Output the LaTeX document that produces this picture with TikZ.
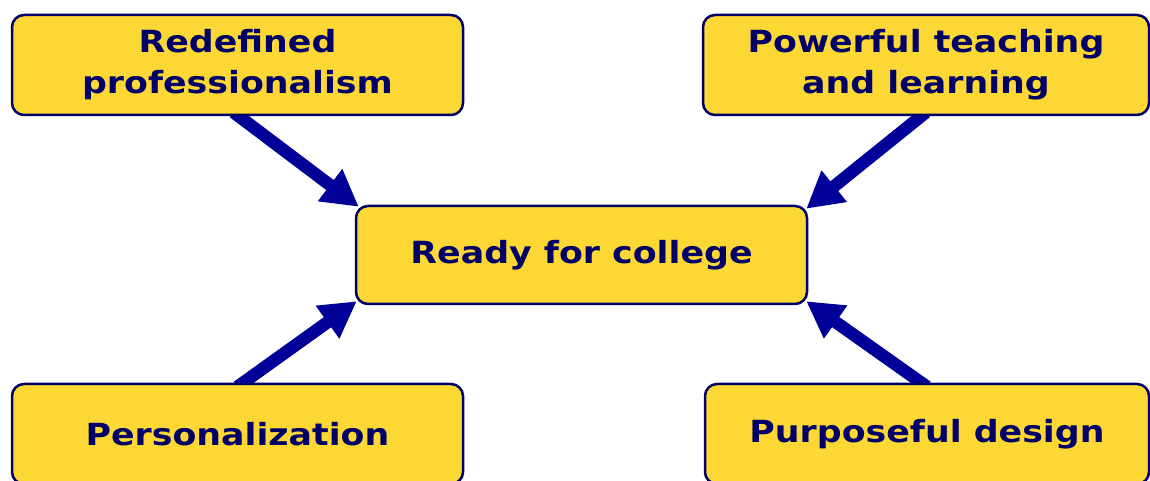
\documentclass[tikz,border=0pt]{standalone}
\usepackage{fontspec}
\setmainfont[FakeStretch=1.14]{DejaVu Sans}
\usetikzlibrary{arrows.meta,backgrounds}
\definecolor{boxyellow}{RGB}{253,216,53}
\definecolor{navytext}{RGB}{0,0,102}
\definecolor{arrowblue}{RGB}{0,0,153}

\begin{document}
\begin{tikzpicture}[x=1pt,y=1pt,
	goal/.style={draw=navytext, line width=2.5pt, fill=boxyellow, rounded corners=12pt,
		minimum width=451pt, minimum height=100pt, inner sep=0pt, align=center,
		text=navytext, font=\fontsize{30.5}{41}\selectfont\bfseries},
	feed/.style={draw=arrowblue, line width=12.5pt, -{Triangle[length=36pt,width=38pt]}}]
	%\draw[help lines] (0,0) grid[step=50] (1150,481);
	\useasboundingbox (0,0) rectangle (1150,481);
	\node[goal] (redef) at (237.5,416) {Redefined\\professionalism};
	\node[goal, minimum width=446pt] (power) at (926,416) {Powerful teaching\\and learning};
	\node[goal, minimum height=98pt] (ready) at (581.5,226) {Ready for college};
	\node[goal] (person) at (237.5,47) {Personalization};
	\node[goal, minimum width=444pt] (purpose) at (927,47) {Purposeful design};
	\begin{scope}[on background layer]
		\draw[feed] ([xshift=-4pt,yshift=4pt]redef.south) -- ([shift={(4pt,-2pt)}]ready.north west);
		\draw[feed] ([yshift=4pt]power.south) -- ([shift={(-2pt,-4pt)}]ready.north east);
		\draw[feed] ([yshift=-4pt]person.north) -- ([shift={(2pt,4pt)}]ready.south west);
		\draw[feed] ([yshift=-4pt]purpose.north) -- ([shift={(-2pt,4pt)}]ready.south east);
	\end{scope}
\end{tikzpicture}
\end{document}
